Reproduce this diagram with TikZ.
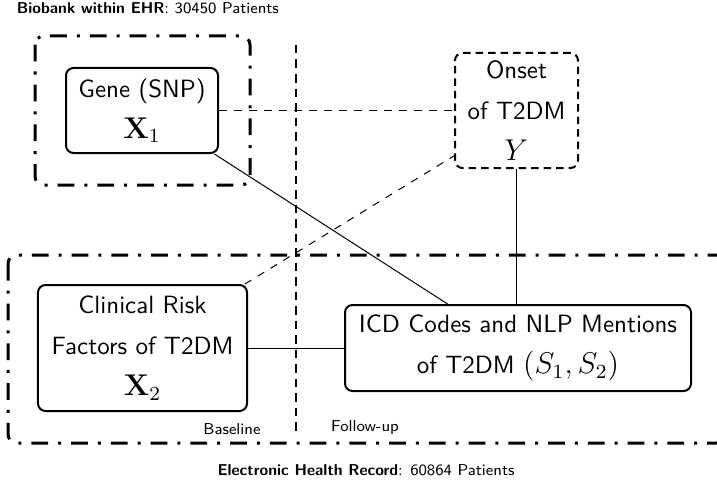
\documentclass[tikz,border=0pt]{standalone}
\usepackage{amsmath}
\usetikzlibrary{calc}
\tikzset{
	factor/.style={draw, line width=0.8pt, rounded corners=3pt, align=center, inner sep=0pt,
			font=\sffamily\fontsize{10}{16.4}\selectfont},
	outcome/.style={factor, dash pattern=on 3pt off 2pt},
	cohort/.style={line width=1.2pt, rounded corners=3.5pt,
			dash pattern=on 6.7pt off 4pt on 1.2pt off 4pt},
	period/.style={line width=1.1pt, dash pattern=on 3.4pt off 2.4pt},
	link/.style={line width=0.4pt},
	caption/.style={font=\sffamily\fontsize{6.3}{7.5}\selectfont}
}
\newcommand{\varsym}[1]{{\fontsize{12}{16.4}\selectfont$#1$}}

\begin{document}
\begin{tikzpicture}[x=0.4pt, y=-0.4pt]
	\useasboundingbox (0,0) rectangle (717,486);

	% Cohorts
	\draw[cohort] (35,36) rectangle (250,185);
	\draw[cohort] (8,255) rectangle (725,443);
	\node[caption, anchor=west] (biobank) at (8,8) {\textbf{Biobank within EHR}: 30450 Patients};
	\node[caption] (ehr) at (366,470) {\textbf{Electronic Health Record}: 60864 Patients};

	% Baseline / follow-up split
	\coordinate (split top) at (296,45);
	\coordinate (split bot) at (296,432);
	\draw[period] (split top) -- (split bot);
	\node[caption] (baseline) at (232,429) {Baseline};
	\node[caption] (followup) at (365,428) {Follow-up};

	% Variables
	\node[factor, minimum width=60.8pt, minimum height=34pt] (gene) at (142,110.5)
		{Gene (SNP)\\ \varsym{\mathbf{X}_1}};
	\node[outcome, minimum width=49.2pt, minimum height=46pt] (onset) at (516.5,110.5)
		{Onset\\ of T2DM\\ \varsym{Y}};
	\node[factor, minimum width=83.6pt, minimum height=50.4pt] (clinical) at (142.5,348)
		{Clinical Risk\\ Factors of T2DM\\ \varsym{\mathbf{X}_2}};
	\node[factor, minimum width=138.4pt, minimum height=34.4pt] (icd) at (518,348)
		{ICD Codes and NLP Mentions\\ of T2DM \varsym{(S_1, S_2)}};

	% Links
	\draw[link, dashed] (gene.east) -- (onset.west);
	\draw[link, dashed] (clinical.32) -- (onset.216);
	\draw[link] (gene.-31) -- (icd.148);
	\draw[link] (onset.south) -- (onset.south |- icd.north);
	\draw[link] (clinical.east) -- (icd.west);
\end{tikzpicture}
\end{document}
